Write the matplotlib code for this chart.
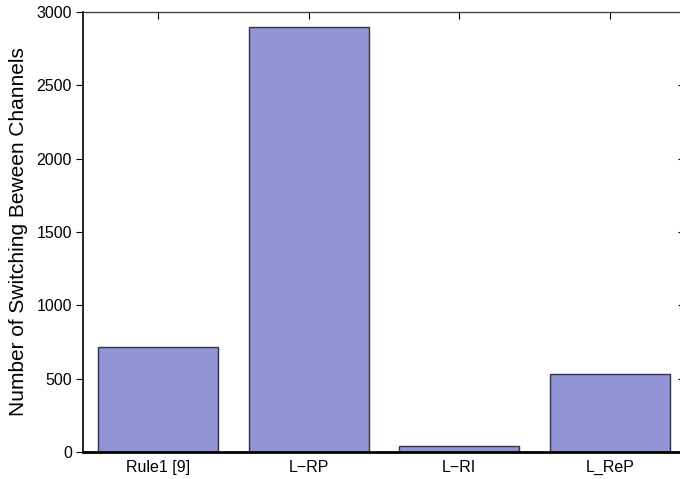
import matplotlib
matplotlib.use("Agg")
import matplotlib.pyplot as plt

categories = ["Rule1 [9]", "L\u2212RP", "L\u2212RI", "L_ReP"]
values = [715, 2900, 38, 535]
yticks = [0, 500, 1000, 1500, 2000, 2500, 3000]

plt.rcParams['font.family'] = ['Liberation Sans', 'DejaVu Sans']

fig = plt.figure(figsize=(6.8, 4.79), dpi=100)
ax = fig.add_axes([83/680, 27/479, (682-83)/680, (452-12)/479])

x = list(range(len(categories)))
ax.bar(x, values, width=0.8, color="#9194d5", edgecolor="#333344", linewidth=1.0, zorder=2)

ax.set_xlim(-0.5, 3.48)
ax.set_ylim(0, 3000)
ax.set_yticks(yticks)
ax.set_xticks(x)
ax.set_xticklabels(categories, fontsize=11.5)
ax.tick_params(axis='y', labelsize=11.5, direction='out', length=5, width=0.8, right=True, pad=3)
ax.tick_params(axis='x', bottom=False, top=True, direction='in', length=5, width=0.8, pad=6)
for t in ax.yaxis.get_major_ticks():
    t.tick2line.set_marker(matplotlib.lines.TICKLEFT)
    t.tick2line.set_markersize(3)
    t.tick2line.set_color("#555555")
for t in ax.xaxis.get_major_ticks():
    t.tick2line.set_color("#666666")

ax.spines['bottom'].set_linewidth(2.0)
ax.spines['left'].set_linewidth(1.2)
ax.spines['top'].set_linewidth(1.0)
ax.spines['top'].set_color("#444444")
ax.spines['right'].set_visible(False)

ax.set_ylabel("Number of Switching Beween Channels", fontsize=15, labelpad=6)

fig.savefig("out.png", dpi=100)
